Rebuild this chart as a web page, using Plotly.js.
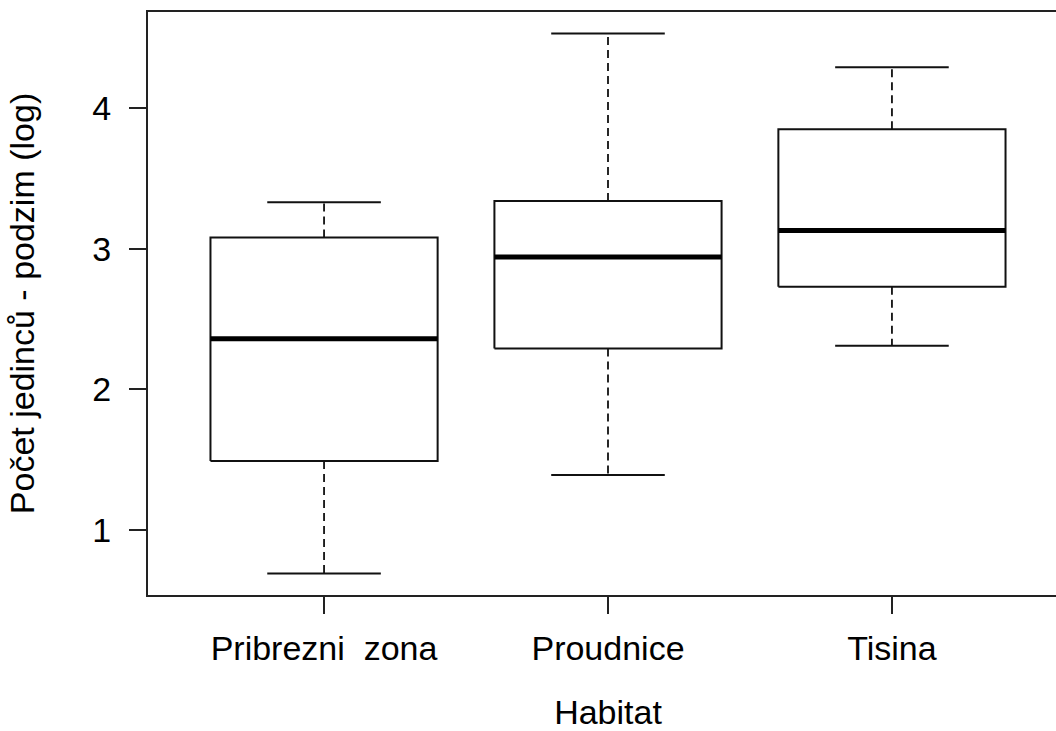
<!DOCTYPE html>
<html>
<head>
<meta charset="utf-8">
<script src="https://cdn.plot.ly/plotly-3.0.1.min.js"></script>
<style>
  html, body { margin: 0; padding: 0; overflow: hidden; background: #fff; }
  #chart { width: 1072px; height: 731px; }
</style>
</head>
<body>
<div id="chart"></div>
<script>
// Autumn abundance (log scale) per habitat: five-number summaries
const categories = ['Pribrezni\u00a0\u00a0zona', 'Proudnice', 'Tisina'];
const lowerWhisker = [0.69, 1.39, 2.31];
const q1 = [1.49, 2.29, 2.73];
const median = [2.36, 2.94, 3.13];
const q3 = [3.08, 3.34, 3.85];
const upperWhisker = [3.33, 4.53, 4.29];
const yTicks = [1, 2, 3, 4];

const boxHalf = 0.4;   // half box width in category units
const capHalf = 0.2;   // half staple width
const ink = '#111';

const traces = [];
categories.forEach((cat, i) => {
  const x = i + 1;
  // dashed whiskers
  traces.push({
    type: 'scatter', mode: 'lines', hoverinfo: 'skip', showlegend: false,
    x: [x, x, null, x, x],
    y: [q3[i], upperWhisker[i], null, q1[i], lowerWhisker[i]],
    line: { color: ink, width: 1.8, dash: '8px,5px' }
  });
  // staples
  traces.push({
    type: 'scatter', mode: 'lines', hoverinfo: 'skip', showlegend: false,
    x: [x - capHalf, x + capHalf, null, x - capHalf, x + capHalf],
    y: [upperWhisker[i], upperWhisker[i], null, lowerWhisker[i], lowerWhisker[i]],
    line: { color: ink, width: 2 }
  });
  // box
  traces.push({
    type: 'scatter', mode: 'lines', hoverinfo: 'skip', showlegend: false,
    x: [x - boxHalf, x + boxHalf, x + boxHalf, x - boxHalf, x - boxHalf],
    y: [q1[i], q1[i], q3[i], q3[i], q1[i]],
    fill: 'toself', fillcolor: '#ffffff',
    line: { color: ink, width: 2 }
  });
  // median
  traces.push({
    type: 'scatter', mode: 'lines', hoverinfo: 'skip', showlegend: false,
    x: [x - boxHalf, x + boxHalf],
    y: [median[i], median[i]],
    line: { color: '#000', width: 5 }
  });
});

// axis limits extended by 4% of the data range, as in base graphics
const yMin = Math.min(...lowerWhisker), yMax = Math.max(...upperWhisker);
const yPad = 0.04 * (yMax - yMin);
const xPad = 0.04 * categories.length;

const font = { family: '"Liberation Sans", Arial, sans-serif', size: 34, color: '#000' };

const layout = {
  width: 1072, height: 731,
  margin: { l: 148, r: 4, t: 12, b: 136 },
  paper_bgcolor: '#fff', plot_bgcolor: '#fff',
  font: font,
  showlegend: false,
  xaxis: {
    range: [0.5 - xPad, categories.length + 0.5 + xPad],
    tickmode: 'array', tickvals: categories.map((c, i) => i + 1), ticktext: categories,
    showgrid: false, zeroline: false,
    showline: true, mirror: true, linecolor: '#222', linewidth: 2,
    ticks: 'outside', ticklen: 17, tickwidth: 2, tickcolor: '#222',
    ticklabelstandoff: 5,
    tickfont: font,
    title: { text: 'Habitat', font: font, standoff: 43 },
    automargin: false
  },
  yaxis: {
    range: [yMin - yPad, yMax + yPad],
    tickmode: 'array', tickvals: yTicks, ticktext: yTicks.map(String),
    showgrid: false, zeroline: false,
    showline: true, mirror: true, linecolor: '#222', linewidth: 2,
    ticks: 'outside', ticklen: 17, tickwidth: 2, tickcolor: '#222',
    ticklabelstandoff: 11,
    tickfont: font,
    title: { text: 'Počet jedinců - podzim (log)', font: font, standoff: 47 },
    automargin: false
  }
};

Plotly.newPlot('chart', traces, layout, { staticPlot: true, displayModeBar: false });
</script>
</body>
</html>
